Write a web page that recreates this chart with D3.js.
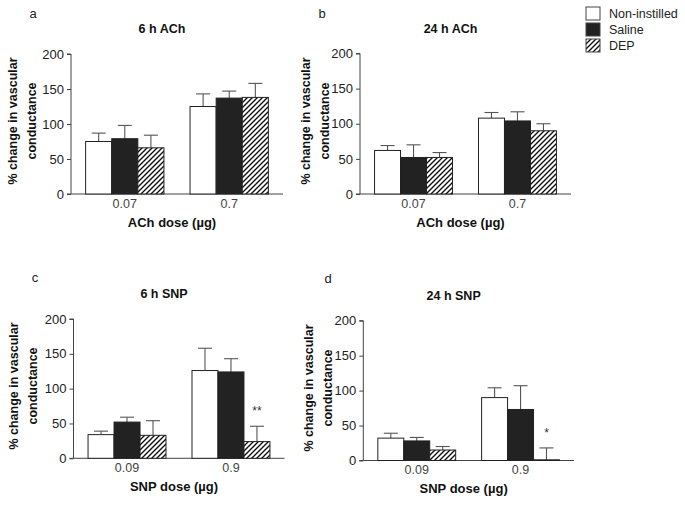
<!DOCTYPE html>
<html>
<head>
<meta charset="utf-8">
<script src="https://cdn.jsdelivr.net/npm/d3@7"></script>
<style>
  html, body { margin: 0; padding: 0; background: #fff; }
  svg { display: block; font-family: "Liberation Sans", Arial, sans-serif; }
</style>
</head>
<body>
<svg id="chart" width="685" height="505"></svg>
<script>
// ---- data ----
const seriesNames = ["Non-instilled", "Saline", "DEP"];
const achDoses = ["0.07", "0.7"];
const snpDoses = ["0.09", "0.9"];
const yTicks = [0, 50, 100, 150, 200];

// means [dose][series]
const ach6hMean  = [[75, 79, 66], [125, 137, 138]];
const ach6hErr   = [[12, 19, 18], [18, 10, 20]];
const ach24hMean = [[62, 52, 52], [108, 104, 90]];
const ach24hErr  = [[7, 18, 7],   [8, 13, 10]];
const snp6hMean  = [[34, 52, 33], [126, 124, 24]];
const snp6hErr   = [[5, 7, 21],   [32, 19, 22]];
const snp24hMean = [[32, 28, 15], [90, 73, 1]];
const snp24hErr  = [[7, 5, 5],    [14, 34, 17]];
const snp6hStars  = [["", "", ""], ["", "", "**"]];
const snp24hStars = [["", "", ""], ["", "", "*"]];
const noStars     = [["", "", ""], ["", "", ""]];

const panels = [
  { letter: "a", title: "6 h ACh",  xTitle: "ACh dose (\u00b5g)", doses: achDoses, mean: ach6hMean,  err: ach6hErr,  stars: noStars,
    x0: 71, x1: 283, y0: 194, y1: 54, letterX: 33, letterY: 13, labX: 13, labY: 121 },
  { letter: "b", title: "24 h ACh", xTitle: "ACh dose (\u00b5g)", doses: achDoses, mean: ach24hMean, err: ach24hErr, stars: noStars,
    x0: 360, x1: 571, y0: 194, y1: 53.5, letterX: 322, letterY: 13, labX: 306, labY: 121 },
  { letter: "c", title: "6 h SNP",  xTitle: "SNP dose (\u00b5g)", doses: snpDoses, mean: snp6hMean,  err: snp6hErr,  stars: snp6hStars,
    x0: 73.5, x1: 284.5, y0: 458.3, y1: 319, letterX: 35, letterY: 277, labX: 14, labY: 386 },
  { letter: "d", title: "24 h SNP", xTitle: "SNP dose (\u00b5g)", doses: snpDoses, mean: snp24hMean, err: snp24hErr, stars: snp24hStars,
    x0: 363.3, x1: 574, y0: 460.5, y1: 320.7, letterX: 328, letterY: 278, labX: 309, labY: 388 }
];

const svg = d3.select("#chart");
const defs = svg.append("defs");
const pat = defs.append("pattern")
  .attr("id", "hatch").attr("patternUnits", "userSpaceOnUse")
  .attr("width", 5).attr("height", 5);
pat.append("rect").attr("width", 5).attr("height", 5).attr("fill", "#fff");
pat.append("path")
  .attr("d", "M0,5 L5,0 M-1,1 L1,-1 M4,6 L6,4")
  .attr("stroke", "#111").attr("stroke-width", 1.4);

const fills = ["#ffffff", "#222222", "url(#hatch)"];

panels.forEach(p => {
  const g = svg.append("g");
  const x = d3.scaleBand().domain(p.doses).range([p.x0, p.x1]).paddingInner(0.25).paddingOuter(0.14);
  const xs = d3.scaleBand().domain(d3.range(seriesNames.length)).range([0, x.bandwidth()]).padding(0);
  const y = d3.scaleLinear().domain([0, 200]).range([p.y0, p.y1]);

  // y axis
  const ya = g.append("g").attr("transform", `translate(${p.x0},0)`)
    .call(d3.axisLeft(y).tickValues(yTicks).tickSize(4).tickPadding(3));
  ya.select(".domain").attr("stroke", "#444").attr("d", `M-4,${y(200)}H0V${y(0)}H-4`);
  ya.selectAll(".tick line").attr("stroke", "#444");
  ya.selectAll(".tick text").attr("font-size", 13).attr("fill", "#222")
    .attr("font-family", "Liberation Sans, Arial, sans-serif");

  // x axis (no ticks)
  const xa = g.append("g").attr("transform", `translate(0,${p.y0})`)
    .call(d3.axisBottom(x).tickSize(0).tickPadding(5));
  xa.select(".domain").attr("stroke", "#444").attr("d", `M${p.x0},0H${p.x1}`);
  xa.selectAll(".tick text").attr("font-size", 12.5).attr("fill", "#444")
    .attr("font-family", "Liberation Sans, Arial, sans-serif");

  // bars
  p.doses.forEach((dose, di) => {
    seriesNames.forEach((s, si) => {
      const v = p.mean[di][si];
      const e = p.err[di][si];
      const bx = x(dose) + xs(si);
      const bw = xs.bandwidth();
      const cx = bx + bw / 2;
      // error bar (upper only)
      g.append("line").attr("x1", cx).attr("x2", cx).attr("y1", y(v)).attr("y2", y(v + e))
        .attr("stroke", "#555").attr("stroke-width", 1.1);
      g.append("line").attr("x1", cx - 7).attr("x2", cx + 7).attr("y1", y(v + e)).attr("y2", y(v + e))
        .attr("stroke", "#555").attr("stroke-width", 1.1);
      g.append("rect").attr("x", bx).attr("y", y(v)).attr("width", bw).attr("height", y(0) - y(v))
        .attr("fill", fills[si]).attr("stroke", "#222").attr("stroke-width", 1);
      const st = p.stars[di][si];
      if (st) {
        g.append("text").attr("x", cx).attr("y", y(v + e) - 11).attr("text-anchor", "middle")
          .attr("font-size", 12).attr("fill", "#333").text(st);
      }
    });
  });

  // panel letter
  g.append("text").attr("x", p.letterX).attr("y", p.letterY).attr("dy", "0.35em")
    .attr("text-anchor", "middle").attr("font-size", 13).attr("fill", "#222").text(p.letter);
  // title
  g.append("text").attr("x", (p.x0 + p.x1) / 2 - 15).attr("y", p.y1 - 25).attr("dy", "0.35em")
    .attr("text-anchor", "middle").attr("font-size", 12.5).attr("font-weight", "bold").attr("fill", "#111").text(p.title);
  // x axis title
  g.append("text").attr("x", (p.x0 + p.x1) / 2 - 5).attr("y", p.y0 + 28).attr("dy", "0.35em")
    .attr("text-anchor", "middle").attr("font-size", 13).attr("font-weight", "bold").attr("fill", "#111").text(p.xTitle);
  // y axis title (two lines)
  const yl = g.append("text").attr("transform", `translate(${p.labX},${p.labY}) rotate(-90)`)
    .attr("text-anchor", "middle").attr("font-size", 12.5).attr("font-weight", "bold").attr("fill", "#111");
  yl.append("tspan").attr("x", 0).attr("dy", "0.35em").text("% change in vascular");
  yl.append("tspan").attr("x", 0).attr("dy", "1.5em").text("conductance");
});

// legend
const legY = [13.5, 29.5, 45.5];
const leg = svg.append("g");
seriesNames.forEach((s, i) => {
  leg.append("rect").attr("x", 586).attr("y", legY[i] - 6.5).attr("width", 14).attr("height", 13)
    .attr("fill", fills[i]).attr("stroke", "#444").attr("stroke-width", 1);
  leg.append("text").attr("x", 609).attr("y", legY[i]).attr("dy", "0.35em")
    .attr("font-size", 12.5).attr("fill", "#222").text(s);
});
</script>
</body>
</html>
